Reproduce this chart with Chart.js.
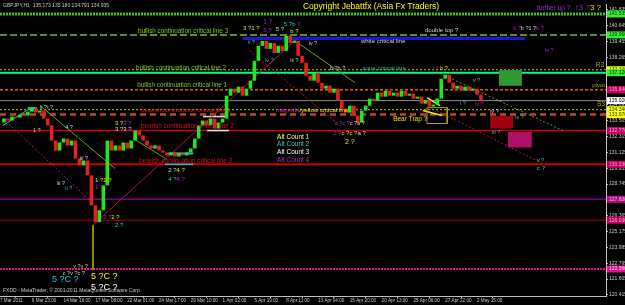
<!DOCTYPE html>
<html>
<head>
<meta charset="utf-8">
<script src="https://cdn.jsdelivr.net/npm/chart.js@4.4.1/dist/chart.umd.min.js"></script>
<style>
  body { margin: 0; background: #000; }
  #wrap { width: 625px; height: 305px; position: relative; }
</style>
</head>
<body>
<div id="wrap"><canvas id="chartCanvas"></canvas></div>
<script>
// x axis: one unit = one candle slot, a date label every 8 slots
const xTickLabels = ['7 Mar 2011', '9 Mar 23:00', '14 Mar 16:00', '17 Mar 08:00', '22 Mar 01:00', '24 Mar 17:00',
  '29 Mar 10:00', '1 Apr 02:00', '5 Apr 19:00', '8 Apr 11:00', '13 Apr 04:00', '15 Apr 20:00',
  '20 Apr 13:00', '25 Apr 06:00', '27 Apr 22:00', '2 May 15:00'];
const yTickValues = [141.835, 140.645, 139.455, 138.265, 137.075, 135.885, 134.695, 133.505, 132.315,
  131.125, 129.935, 128.745, 127.555, 126.365, 125.175, 123.985, 122.795, 121.605, 120.415];

// GBPJPY closes
const closes = [
  133.37, 133.67, 133.52, 133.82, 133.75, 133.97, 133.90, 134.19, 134.42, 134.12,
  134.27, 133.67, 133.15, 132.02, 131.27, 131.87, 132.17, 131.65, 132.02, 130.67,
  130.15, 130.52, 129.40, 127.15, 125.88, 126.78, 128.65, 132.02, 131.27, 131.65,
  131.27, 131.87, 131.42, 132.02, 132.77, 132.40, 132.02, 131.65, 131.42, 131.65,
  131.27, 131.12, 130.90, 131.12, 130.82, 131.05, 130.90, 131.12, 131.42, 132.17,
  133.15, 133.52, 133.15, 133.67, 132.92, 133.37, 133.67, 135.39, 135.92, 135.62,
  136.07, 135.39, 135.92, 136.52, 138.01, 139.14, 139.51, 138.91, 139.36, 138.61,
  139.14, 138.76, 139.89, 139.36, 139.51, 138.39, 137.87, 136.89, 136.52, 137.12,
  136.37, 135.92, 136.14, 135.62, 135.92, 135.02, 134.42, 134.12, 134.64, 133.90,
  133.37, 134.27, 134.64, 135.17, 135.02, 135.62, 135.32, 135.77, 135.39, 135.62,
  135.32, 135.77, 135.39, 135.54, 135.17, 135.32, 134.79, 135.02, 134.57, 134.72,
  135.17, 136.67, 136.97, 136.37, 135.92, 136.14, 135.77, 136.07, 135.77, 135.92,
  135.47, 135.02
];

// horizontal levels (price) and their look
const levelPrices = [141.535, 139.96, 137.34, 137.12, 135.84, 135.02, 134.34, 133.97, 132.77, 130.23, 127.60, 126.03, 122.36];
const levelStyles = [
  { color: '#40c020', width: 3, dash: [2, 1], tag: '#33ee33', tagText: '#003300' },
  { color: '#5a8c32', width: 2, dash: [7, 3], tag: '#33ee33', tagText: '#003300' },
  { color: '#c8c800', width: 1, dash: [2, 2], tag: '#ffff00', tagText: '#333300' },
  { color: '#00ff7f', width: 2, dash: [], tag: '#33ee33', tagText: '#003300' },
  { color: '#e05a10', width: 1.5, dash: [3, 2], tag: '#c80064', tagText: '#ff9ccc' },
  { color: '#8c8c8c', width: 1, dash: [], tag: '#ffffff', tagText: '#000000' },
  { color: '#c8c800', width: 1, dash: [2, 2], tag: '#ffff00', tagText: '#333300' },
  { color: '#c04a1a', width: 2.5, dash: [6, 4], tag: '#ffff00', tagText: '#333300' },
  { color: '#c80000', width: 1.5, dash: [], tag: '#c80064', tagText: '#ff9ccc' },
  { color: '#c80000', width: 2, dash: [], tag: '#c80064', tagText: '#ff9ccc' },
  { color: '#800080', width: 1.5, dash: [], tag: '#b0108a', tagText: '#ffb0e0' },
  { color: '#b40000', width: 1, dash: [], tag: '#c80064', tagText: '#ff9ccc' },
  { color: '#e01090', width: 2, dash: [2, 1], tag: '#e01090', tagText: '#ffd0f0' }
];

// trend lines [x1, price1, x2, price2]
const trendLines = [
  [61.1, 139.69, 132.1, 139.69],
  [0.75, 133.67, 23.1, 127.38],
  [23.4, 125.66, 75.5, 139.89],
  [62.9, 138.76, 85.5, 133.15],
  [10.1, 134.64, 28.9, 129.92],
  [33.5, 132.17, 42.0, 130.60],
  [73.5, 139.66, 89.3, 136.37],
  [112.0, 136.89, 141.6, 132.77],
  [109.9, 134.27, 136.4, 130.30],
  [23.4, 125.66, 23.4, 122.28],
  [0.75, 133.15, 7.5, 134.42],
  [7.0, 134.42, 9.3, 134.42],
  [42.3, 131.05, 48.6, 131.05],
  [41.5, 130.23, 48.6, 130.23],
  [51.1, 133.82, 57.1, 133.82],
  [52.1, 132.77, 57.6, 132.77],
  [107.4, 135.24, 110.7, 134.64],
  [106.4, 134.27, 111.2, 133.90]
];
const trendStyles = [
  { color: '#1a1ad0', width: 3, dash: [] },
  { color: '#b0207a', width: 1, dash: [2, 2] },
  { color: '#c01040', width: 1, dash: [] },
  { color: '#c01040', width: 1, dash: [2, 2] },
  { color: '#60a020', width: 1, dash: [] },
  { color: '#60a020', width: 1, dash: [] },
  { color: '#60a020', width: 1, dash: [] },
  { color: '#60a020', width: 1, dash: [2, 2] },
  { color: '#c01040', width: 1, dash: [2, 2] },
  { color: '#a0a000', width: 1, dash: [] },
  { color: '#20c0c0', width: 1, dash: [] },
  { color: '#20c0a0', width: 3, dash: [] },
  { color: '#20c0c0', width: 2, dash: [] },
  { color: '#20c0c0', width: 1.5, dash: [] },
  { color: '#e0e0e0', width: 1.5, dash: [] },
  { color: '#e0e0e0', width: 1.5, dash: [] },
  { color: '#f0f000', width: 1.5, dash: [] },
  { color: '#f0f000', width: 1.5, dash: [] }
];

// boxes [x1, x2, top price, bottom price]
const boxes = [
  [125.5, 131.3, 137.27, 136.14],
  [123.3, 129.1, 133.82, 132.92],
  [127.8, 133.8, 132.62, 131.50],
  [107.4, 112.5, 134.49, 133.30]
];
const boxStyles = [
  { fill: '#2f9a2f', line: '#2f9a2f' },
  { fill: '#a00010', line: '#a00010' },
  { fill: '#b0106a', line: '#b0106a' },
  { fill: null, line: '#b8a020' }
];

const G = '#7ec820', R = '#d01818', Y = '#e8e800', W = '#d0d0d0', C = '#30c8c8', M = '#c020c0', P = '#9030d0';
const notes = [
  { x: 76.2, y: 142.06, size: 8.5, parts: [['Copyright Jebattfx (Asia Fx Traders)', '#ffff00']] },
  { x: 135.1, y: 141.985, size: 6.5, parts: [['further up ?', P]] },
  { x: 144.6, y: 141.985, size: 8, parts: [['↑', M], ['3 ?', P], ['3 ?', Y]] },
  { x: 34.7, y: 140.26, size: 6.3, parts: [['bullish continuation critical line 3', G]] },
  { x: 34.2, y: 137.49, size: 6.3, parts: [['bullish continuation critical line 2', G]] },
  { x: 34.5, y: 136.14, size: 6.3, parts: [['bullish continuation critical line 1', G]] },
  { x: 35.5, y: 134.27, size: 6.1, parts: [['bearish continuation critical line 1', R]] },
  { x: 35.5, y: 133.07, size: 6.3, parts: [['bearish continuation critical line 2', R]] },
  { x: 35.0, y: 130.45, size: 6.3, parts: [['bearish continuation critical line 3', R]] },
  { x: 69.4, y: 134.27, size: 6.1, parts: [['magenta', M], ['/yellow critical line', Y]] },
  { x: 90.8, y: 139.51, size: 6.1, parts: [['white critical line', W]] },
  { x: 91.1, y: 137.42, size: 6.1, parts: [['aqua critical line', '#20b0a8']] },
  { x: 106.9, y: 140.34, size: 6.1, parts: [['double top ?', W]] },
  { x: 149.9, y: 137.71, size: 6.5, parts: [['R3', '#b0b000']] },
  { x: 149.0, y: 136.14, size: 6, parts: [['pivot', '#b0b000']] },
  { x: 150.2, y: 134.72, size: 6.5, parts: [['S3', '#b0b000']] },
  { x: 98.9, y: 133.60, size: 6.5, parts: [['Bear Trap ?', Y]] },
  { x: 69.7, y: 132.25, size: 6.5, parts: [['Alt Count 1', '#ffff70']] },
  { x: 69.7, y: 131.72, size: 6.5, parts: [['Alt Count 2', C]] },
  { x: 69.7, y: 131.12, size: 6.5, parts: [['Alt Count 3', '#ffffff']] },
  { x: 69.7, y: 130.52, size: 6.5, parts: [['Alt Count 4', M]] },
  { x: 13.1, y: 121.54, size: 9, parts: [['5 ?C ?', C]] },
  { x: 22.9, y: 121.76, size: 9, parts: [['5 ?C ?', '#ffff00']] },
  { x: 22.9, y: 120.94, size: 9, parts: [['5 ?C ?', '#ffffff']] },
  { x: 15.8, y: 122.06, parts: [['c ?v ?c ?', W]] },
  { x: 18.4, y: 122.58, parts: [['v ?v ?', '#c0c0a0']] },
  { x: 61.1, y: 140.49, size: 6, parts: [['3 ?', W], ['1 ?', Y]] },
  { x: 66.2, y: 140.94, size: 6.5, parts: [['1 ?', M]] },
  { x: 66.2, y: 140.34, size: 6, parts: [['5 ?', M]] },
  { x: 69.4, y: 140.41, size: 6, parts: [['5 ?', W]] },
  { x: 71.4, y: 140.79, size: 6, parts: [['5 ?b ', C], ['?', M]] },
  { x: 73.0, y: 140.26, size: 6, parts: [['b ?', Y]] },
  { x: 62.4, y: 139.36, parts: [['ii ?', C]] },
  { x: 77.7, y: 139.29, parts: [['iv ?', W]] },
  { x: 66.7, y: 138.01, parts: [['iv ?', C]] },
  { x: 73.0, y: 138.01, parts: [['iii ?', W]] },
  { x: 129.1, y: 140.41, parts: [['b ?', M], ['b ?1 ?', W], ['b ?', M]] },
  { x: 137.1, y: 138.76, parts: [['iv ?', P]] },
  { x: 83.0, y: 137.42, parts: [['b ?b ?', W]] },
  { x: 108.9, y: 137.42, parts: [['i ?', M], [' b ?', Y]] },
  { x: 10.1, y: 134.49, parts: [['ii ?i ?', W]] },
  { x: 8.3, y: 132.77, parts: [['1 ?', W]] },
  { x: 16.4, y: 132.99, parts: [['4 ?', W]] },
  { x: 28.9, y: 133.30, size: 6, parts: [['3 ?', Y], ['3 ?', M]] },
  { x: 28.9, y: 132.85, size: 6, parts: [['3 ?3 ?', W]] },
  { x: 20.1, y: 130.67, parts: [['iii ?', W]] },
  { x: 42.3, y: 129.77, size: 6, parts: [['2 ?', W], ['4 ?', Y]] },
  { x: 42.3, y: 129.10, size: 6, parts: [['4 ?', C], ['4 ?', M]] },
  { x: 23.9, y: 129.03, size: 6, parts: [['1 ?1 ?', Y]] },
  { x: 23.9, y: 128.50, size: 6, parts: [['1 ?', M]] },
  { x: 25.9, y: 126.25, size: 6, parts: [['2 ?', M], ['2 ?', Y]] },
  { x: 28.9, y: 125.66, size: 6, parts: [['2 ?', C]] },
  { x: 14.3, y: 128.80, parts: [['iii ?', W]] },
  { x: 16.4, y: 128.43, parts: [['ii ?', C]] },
  { x: 84.3, y: 133.30, parts: [['c ?c ?', M], ['c ?a ?', W]] },
  { x: 83.8, y: 132.55, size: 6, parts: [['2 ?', M], ['c ?c ?', Y], ['a ?', W]] },
  { x: 86.8, y: 131.87, size: 7, parts: [['2 ?', Y]] },
  { x: 115.7, y: 134.79, parts: [['i ?', C]] },
  { x: 119.5, y: 134.72, parts: [['iv ?', M]] },
  { x: 119.0, y: 136.52, parts: [['v ?', C]] },
  { x: 123.3, y: 134.19, parts: [['iv ?', W]] },
  { x: 129.6, y: 133.75, parts: [['iv ?', C]] },
  { x: 123.8, y: 132.62, parts: [['iii ?', C]] },
  { x: 135.1, y: 130.52, parts: [['v ?', C]] },
  { x: 135.1, y: 129.92, size: 6, parts: [['c ?', C]] }
];

const xMax = 152.45;
const FONT = '"Liberation Sans", Arial, sans-serif';

const candleData = closes.slice(1).map((c, i) => ({ x: i + 1, y: [closes[i], c] }));
const candleColors = closes.slice(1).map((c, i) => (c >= closes[i] ? '#1fe81f' : '#e81f1f'));

const datasets = [{
  type: 'bar',
  data: candleData,
  backgroundColor: candleColors,
  borderColor: candleColors,
  borderWidth: 0,
  barPercentage: 1,
  categoryPercentage: 0.9,
  order: 1
}];

levelPrices.forEach((p, i) => {
  const s = levelStyles[i];
  datasets.push({
    type: 'line',
    data: [{ x: 0, y: p }, { x: xMax, y: p }],
    borderColor: s.color, borderWidth: s.width, borderDash: s.dash,
    pointRadius: 0, fill: false, order: 3
  });
});

boxes.forEach((b, i) => {
  const s = boxStyles[i];
  const pts = s.fill
    ? [{ x: b[0], y: b[2] }, { x: b[1], y: b[2] }]
    : [{ x: b[0], y: b[2] }, { x: b[1], y: b[2] }, { x: b[1], y: b[3] }, { x: b[0], y: b[3] }, { x: b[0], y: b[2] }];
  datasets.push({
    type: 'line',
    data: pts,
    borderColor: s.line, borderWidth: 1,
    backgroundColor: s.fill || 'transparent',
    fill: s.fill ? { value: b[3] } : false,
    pointRadius: 0, order: 2
  });
});

trendLines.forEach((t, i) => {
  const s = trendStyles[i];
  datasets.push({
    type: 'line',
    data: [{ x: t[0], y: t[1] }, { x: t[2], y: t[3] }],
    borderColor: s.color, borderWidth: s.width, borderDash: s.dash,
    pointRadius: 0, fill: false, order: 2
  });
});

const textPlugin = {
  id: 'texts',
  afterDatasetsDraw(chart) {
    const { ctx, scales: { x, y } } = chart;
    ctx.save();
    ctx.textBaseline = 'middle';
    ctx.textAlign = 'left';
    notes.forEach(n => {
      let px = x.getPixelForValue(n.x);
      const py = y.getPixelForValue(n.y);
      ctx.font = (n.size || 5.5) + 'px ' + FONT;
      n.parts.forEach(([t, c]) => {
        ctx.fillStyle = c;
        ctx.fillText(t, px, py);
        px += ctx.measureText(t).width;
      });
    });
    ctx.restore();
  },
  afterDraw(chart) {
    const { ctx, chartArea, scales: { y } } = chart;
    ctx.save();
    ctx.textBaseline = 'middle';
    ctx.font = '5px ' + FONT;
    // price tags on the axis
    levelPrices.forEach((p, i) => {
      const s = levelStyles[i];
      const py = y.getPixelForValue(p);
      ctx.fillStyle = s.tag;
      ctx.fillRect(chartArea.right + 1, py - 3.5, 24, 7);
      ctx.fillStyle = s.tagText;
      ctx.fillText(p.toFixed(3), chartArea.right + 3, py);
    });
    ctx.fillStyle = '#c8c8c8';
    ctx.fillText('GBPJPY,H1  135.173 135.180 134.791 134.935', chartArea.left + 3, chartArea.top + 2);
    ctx.fillText('FXDD - MetaTrader, \u00a9 2001-2011 MetaQuotes Software Corp.', chartArea.left + 3, chartArea.bottom - 5);
    ctx.restore();
  }
};

const ctx = document.getElementById('chartCanvas').getContext('2d');
new Chart(ctx, {
  type: 'bar',
  data: { datasets },
  options: {
    responsive: true,
    maintainAspectRatio: false,
    animation: false,
    layout: { padding: { top: 3 } },
    plugins: { legend: { display: false }, tooltip: { enabled: false } },
    scales: {
      x: {
        type: 'linear',
        min: 0,
        max: xMax,
        offset: false,
        afterBuildTicks: (s) => { s.ticks = xTickLabels.map((_, k) => ({ value: k * 8 })); },
        afterFit: (s) => { s.height = 9; },
        ticks: {
          callback: (v) => xTickLabels[Math.round(v / 8)],
          align: 'start',
          autoSkip: false,
          maxRotation: 0,
          minRotation: 0,
          padding: 0,
          color: '#c8c8c8',
          font: { family: FONT, size: 4.6 }
        },
        grid: { drawOnChartArea: false, tickLength: 2, color: '#c0c0c0' },
        border: { color: '#c0c0c0' }
      },
      y: {
        type: 'linear',
        position: 'right',
        min: 120.33,
        max: 142.285,
        afterBuildTicks: (s) => { s.ticks = yTickValues.map(v => ({ value: v })); },
        afterFit: (s) => { s.width = 19; },
        ticks: {
          callback: (v) => v.toFixed(3),
          autoSkip: false,
          padding: 1,
          color: '#c8c8c8',
          font: { family: FONT, size: 5 }
        },
        grid: { drawOnChartArea: false, tickLength: 2, color: '#c0c0c0' },
        border: { color: '#c0c0c0' }
      }
    }
  },
  plugins: [textPlugin]
});
</script>
</body>
</html>
